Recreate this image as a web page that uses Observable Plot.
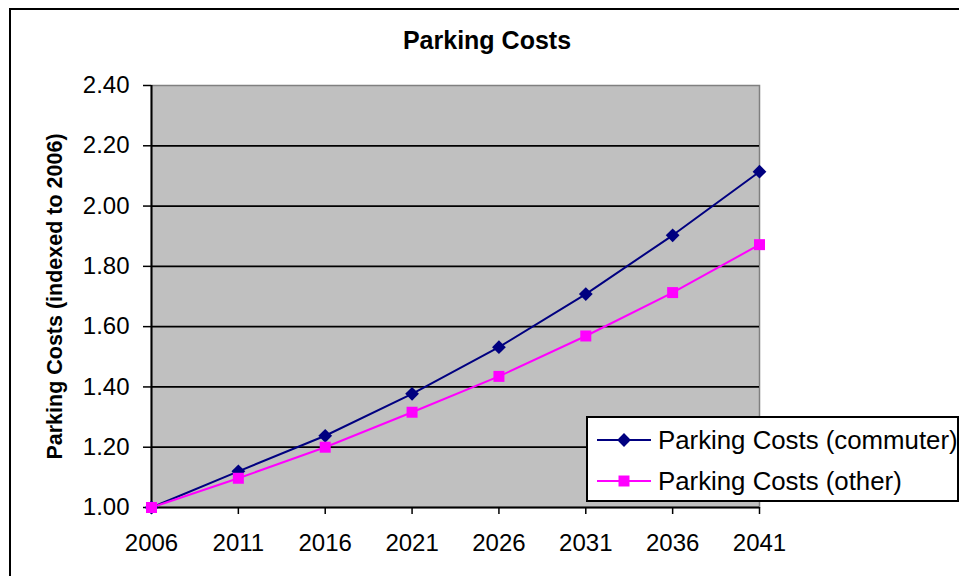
<!DOCTYPE html>
<html>
<head>
<meta charset="utf-8">
<script src="https://cdn.jsdelivr.net/npm/d3@7"></script>
<script src="https://cdn.jsdelivr.net/npm/@observablehq/plot@0.6"></script>
<style>
  html, body { margin: 0; padding: 0; background: #fff; overflow: hidden; }
  #wrap { position: relative; width: 959px; height: 576px; overflow: hidden; font-family: "Liberation Sans", Arial, sans-serif; }
  #border { position: absolute; left: 9px; top: 8px; width: 1000px; height: 1000px; border: 2px solid #000; box-sizing: border-box; }
  #title { position: absolute; left: 0; width: 974px; top: 25px; text-align: center; font-weight: bold; font-size: 25px; line-height: 30px; color: #000; }
  #chart { position: absolute; left: 0; top: 0; }
  #legend { position: absolute; left: 586px; top: 416px; width: 373px; height: 86px; box-sizing: border-box; border: 2px solid #000; background: #fff; }
  .item { position: absolute; left: 8px; height: 30px; display: flex; align-items: center; font-size: 25.8px; color: #000; white-space: nowrap; }
  .item svg { margin-right: 6px; }
</style>
</head>
<body>
<div id="wrap">
  <div id="border"></div>
  <div id="chart"></div>
  <div id="title"></div>
  <div id="legend"></div>
</div>
<script>
const titleText = "Parking Costs";
const yLabel = "Parking Costs (indexed to 2006)";
const years = [2006, 2011, 2016, 2021, 2026, 2031, 2036, 2041];
const commuter = [1.00, 1.12, 1.238, 1.377, 1.532, 1.708, 1.903, 2.114];
const other = [1.00, 1.097, 1.20, 1.316, 1.435, 1.569, 1.713, 1.872];
const seriesNames = ["Parking Costs (commuter)", "Parking Costs (other)"];
const seriesColors = ["#000080", "#ff00ff"];
const seriesSymbols = ["diamond2", "square"];
const yTicks = [1.00, 1.20, 1.40, 1.60, 1.80, 2.00, 2.20, 2.40];
const yGrid = [1.20, 1.40, 1.60, 1.80, 2.00, 2.20];

const rows = [];
years.forEach((yr, i) => {
  rows.push({year: yr, value: commuter[i], series: seriesNames[0]});
  rows.push({year: yr, value: other[i], series: seriesNames[1]});
});

const chart = Plot.plot({
  width: 959,
  height: 576,
  marginLeft: 151,
  marginRight: 200,
  marginTop: 85,
  marginBottom: 69,
  style: "font-family: 'Liberation Sans', Arial, sans-serif; font-size: 24px; background: transparent; overflow: visible; color: #000;",
  x: {type: "linear", domain: [2006, 2041]},
  y: {domain: [1.0, 2.4]},
  color: {domain: seriesNames, range: seriesColors},
  symbol: {domain: seriesNames, range: seriesSymbols},
  marks: [
    Plot.frame({fill: "#c0c0c0", stroke: "#808080", strokeWidth: 1.5}),
    Plot.gridY(yGrid, {stroke: "#000", strokeOpacity: 1, strokeWidth: 1.8}),
    Plot.axisX({ticks: years, tickFormat: d => String(d), tickSize: 7, tickPadding: 19, label: null, strokeWidth: 1.5, fontSize: 24}),
    Plot.axisY({ticks: yTicks, tickFormat: d3.format(".2f"), tickSize: 8, tickPadding: 14, label: null, strokeWidth: 1.5, fontSize: 24}),
    Plot.ruleX([2006], {stroke: "#000", strokeWidth: 2}),
    Plot.ruleY([1.0], {stroke: "#000", strokeWidth: 2}),
    Plot.line(rows, {x: "year", y: "value", z: "series", stroke: "series", strokeWidth: 2}),
    Plot.dot(rows, {x: "year", y: "value", symbol: "series", fill: "series", stroke: "none", r: 6.2}),
    Plot.text([yLabel], {frameAnchor: "left", dx: -96, rotate: -90, textAnchor: "middle", lineAnchor: "middle", fontWeight: "bold", fontSize: 21.5, fill: "#000"})
  ]
});
document.getElementById("chart").appendChild(chart);
document.getElementById("title").textContent = titleText;

const legend = document.getElementById("legend");
seriesNames.forEach((name, i) => {
  const item = document.createElement("div");
  item.className = "item";
  item.style.top = (i === 0 ? 7 : 48) + "px";
  const ns = "http://www.w3.org/2000/svg";
  const svg = document.createElementNS(ns, "svg");
  svg.setAttribute("width", 56); svg.setAttribute("height", 20);
  const line = document.createElementNS(ns, "line");
  line.setAttribute("x1", 1); line.setAttribute("x2", 55); line.setAttribute("y1", 10); line.setAttribute("y2", 10);
  line.setAttribute("stroke", seriesColors[i]); line.setAttribute("stroke-width", 2);
  svg.appendChild(line);
  const sym = document.createElementNS(ns, "path");
  const symType = i === 0 ? d3.symbolDiamond2 : d3.symbolSquare;
  sym.setAttribute("d", d3.symbol(symType, Math.PI * 6.2 * 6.2)());
  sym.setAttribute("transform", "translate(28,10)");
  sym.setAttribute("fill", seriesColors[i]);
  svg.appendChild(sym);
  item.appendChild(svg);
  const span = document.createElement("span");
  span.textContent = name;
  item.appendChild(span);
  legend.appendChild(item);
});
</script>
</body>
</html>
